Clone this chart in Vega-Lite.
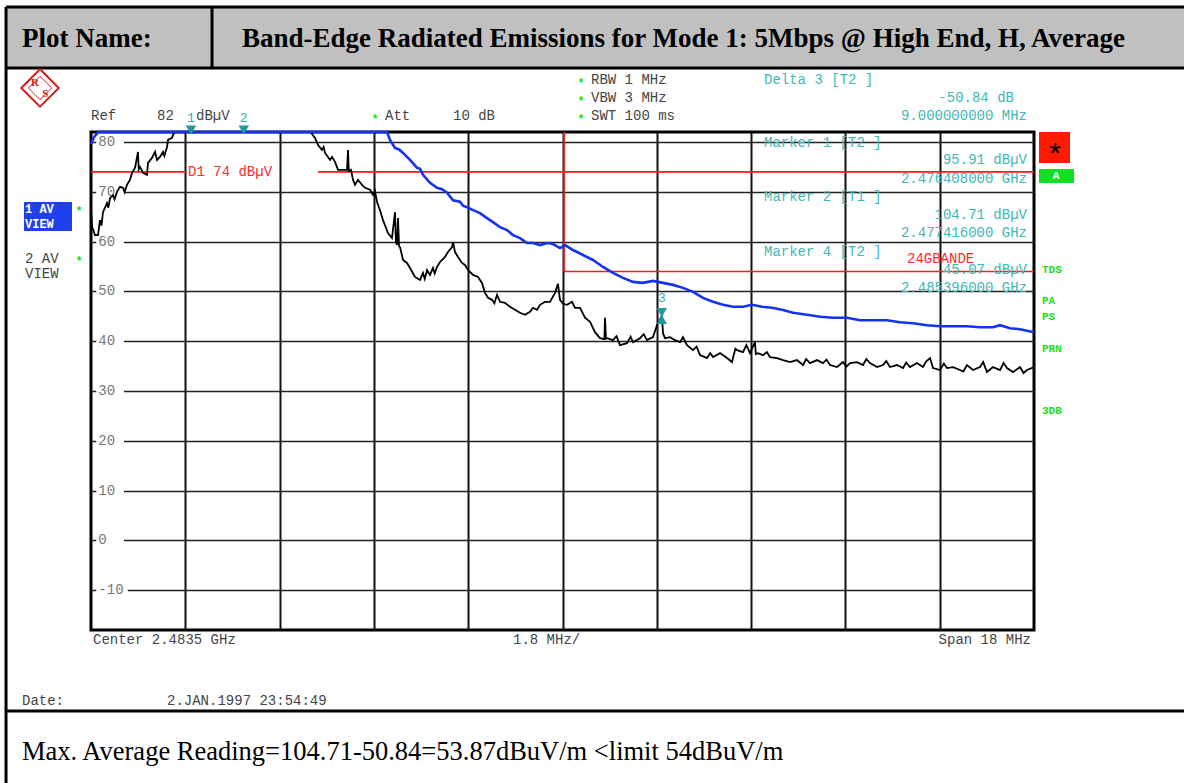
{
  "$schema": "https://vega.github.io/schema/vega-lite/v6.json",
  "width": 943,
  "height": 498,
  "autosize": {"type": "none"},
  "padding": {"left": 91, "top": 132, "right": 150, "bottom": 153},
  "background": "white",
  "config": {"view": {"stroke": "#000", "strokeWidth": 3}},
  "datasets": {
    "trace2": [
      {"f":2474.5,"v":66.3},{"f":2474.52,"v":63.0},{"f":2474.576,"v":61.3},{"f":2474.634,"v":61.3},{"f":2474.672,"v":64.3},{"f":2474.70,"v":63.2},{"f":2474.729,"v":65.9},{"f":2474.805,"v":67.7},{"f":2474.83,"v":66.8},{"f":2474.863,"v":68.7},{"f":2474.920,"v":69.3},{"f":2474.95,"v":68.5},{"f":2474.996,"v":70.0},{"f":2475.053,"v":71.0},{"f":2475.111,"v":70.8},{"f":2475.14,"v":69.9},{"f":2475.187,"v":71.4},{"f":2475.244,"v":72.4},{"f":2475.283,"v":73.8},{"f":2475.340,"v":74.8},{"f":2475.397,"v":78.0},{"f":2475.41,"v":74.5},{"f":2475.435,"v":75.0},{"f":2475.493,"v":73.8},{"f":2475.569,"v":73.4},{"f":2475.588,"v":75.8},{"f":2475.664,"v":76.8},{"f":2475.722,"v":78.0},{"f":2475.760,"v":76.4},{"f":2475.817,"v":77.0},{"f":2475.874,"v":78.0},{"f":2475.90,"v":77.2},{"f":2475.951,"v":79.0},{"f":2475.970,"v":80.4},{"f":2476.046,"v":80.8},{"f":2476.065,"v":81.4},{"f":2476.1,"v":82},{"f":2478.70,"v":82},{"f":2478.718,"v":81.6},{"f":2478.776,"v":80.8},{"f":2478.833,"v":79.4},{"f":2478.909,"v":78.4},{"f":2478.94,"v":79.0},{"f":2478.967,"v":77.8},{"f":2479.062,"v":76.4},{"f":2479.10,"v":77.0},{"f":2479.158,"v":76.0},{"f":2479.215,"v":74.4},{"f":2479.291,"v":74.4},{"f":2479.387,"v":74.4},{"f":2479.406,"v":78.4},{"f":2479.42,"v":74.2},{"f":2479.463,"v":74.4},{"f":2479.501,"v":72.4},{"f":2479.539,"v":71.4},{"f":2479.597,"v":72.4},{"f":2479.673,"v":71.4},{"f":2479.730,"v":70.8},{"f":2479.826,"v":70.4},{"f":2479.883,"v":69.4},{"f":2479.92,"v":70.2},{"f":2479.959,"v":68.0},{"f":2480.016,"v":66.3},{"f":2480.074,"v":64.3},{"f":2480.169,"v":61.7},{"f":2480.245,"v":60.7},{"f":2480.303,"v":65.9},{"f":2480.32,"v":60.0},{"f":2480.341,"v":59.3},{"f":2480.360,"v":64.7},{"f":2480.38,"v":59.0},{"f":2480.398,"v":58.9},{"f":2480.456,"v":56.3},{"f":2480.532,"v":55.7},{"f":2480.589,"v":54.7},{"f":2480.685,"v":52.9},{"f":2480.780,"v":52.3},{"f":2480.837,"v":53.7},{"f":2480.87,"v":52.5},{"f":2480.914,"v":54.3},{"f":2480.971,"v":53.3},{"f":2481.028,"v":54.7},{"f":2481.06,"v":53.6},{"f":2481.104,"v":54.9},{"f":2481.162,"v":55.9},{"f":2481.257,"v":56.9},{"f":2481.314,"v":57.9},{"f":2481.391,"v":58.9},{"f":2481.410,"v":59.9},{"f":2481.448,"v":57.9},{"f":2481.505,"v":56.9},{"f":2481.582,"v":55.7},{"f":2481.639,"v":55.3},{"f":2481.696,"v":54.3},{"f":2481.792,"v":53.3},{"f":2481.887,"v":52.9},{"f":2481.963,"v":51.7},{"f":2482.021,"v":49.7},{"f":2482.078,"v":48.7},{"f":2482.154,"v":48.3},{"f":2482.20,"v":47.6},{"f":2482.250,"v":49.3},{"f":2482.307,"v":47.9},{"f":2482.402,"v":47.7},{"f":2482.498,"v":46.9},{"f":2482.593,"v":46.3},{"f":2482.689,"v":45.7},{"f":2482.784,"v":45.3},{"f":2482.880,"v":45.9},{"f":2482.937,"v":46.7},{"f":2483.013,"v":46.3},{"f":2483.071,"v":47.3},{"f":2483.166,"v":47.9},{"f":2483.261,"v":47.9},{"f":2483.357,"v":49.7},{"f":2483.414,"v":51.5},{"f":2483.452,"v":48.3},{"f":2483.510,"v":47.5},{"f":2483.586,"v":47.3},{"f":2483.681,"v":47.9},{"f":2483.739,"v":46.7},{"f":2483.834,"v":46.7},{"f":2483.930,"v":44.7},{"f":2484.025,"v":43.9},{"f":2484.120,"v":41.8},{"f":2484.216,"v":40.6},{"f":2484.30,"v":40.4},{"f":2484.311,"v":44.7},{"f":2484.33,"v":40.5},{"f":2484.349,"v":40.6},{"f":2484.464,"v":40.2},{"f":2484.53,"v":41.0},{"f":2484.598,"v":39.2},{"f":2484.731,"v":39.6},{"f":2484.80,"v":40.9},{"f":2484.846,"v":39.8},{"f":2484.979,"v":40.6},{"f":2485.05,"v":41.4},{"f":2485.113,"v":40.2},{"f":2485.227,"v":40.8},{"f":2485.304,"v":43.2},{"f":2485.396,"v":45.07},{"f":2485.42,"v":41.5},{"f":2485.457,"v":40.6},{"f":2485.553,"v":40.8},{"f":2485.648,"v":40.2},{"f":2485.743,"v":39.8},{"f":2485.80,"v":40.8},{"f":2485.877,"v":39.2},{"f":2485.991,"v":38.2},{"f":2486.06,"v":38.9},{"f":2486.125,"v":37.2},{"f":2486.258,"v":36.6},{"f":2486.32,"v":37.6},{"f":2486.373,"v":36.8},{"f":2486.506,"v":37.6},{"f":2486.640,"v":36.6},{"f":2486.735,"v":35.8},{"f":2486.80,"v":38.5},{"f":2486.831,"v":38.2},{"f":2486.945,"v":37.8},{"f":2487.01,"v":39.2},{"f":2487.079,"v":37.6},{"f":2487.174,"v":39.8},{"f":2487.19,"v":37.4},{"f":2487.232,"v":37.6},{"f":2487.327,"v":37.2},{"f":2487.40,"v":37.8},{"f":2487.461,"v":36.8},{"f":2487.594,"v":36.6},{"f":2487.709,"v":36.2},{"f":2487.843,"v":35.8},{"f":2487.976,"v":36.2},{"f":2488.091,"v":35.2},{"f":2488.15,"v":36.4},{"f":2488.224,"v":35.6},{"f":2488.358,"v":36.2},{"f":2488.472,"v":35.6},{"f":2488.54,"v":36.3},{"f":2488.606,"v":35.2},{"f":2488.740,"v":34.8},{"f":2488.854,"v":35.8},{"f":2488.92,"v":34.9},{"f":2488.988,"v":35.6},{"f":2489.121,"v":35.8},{"f":2489.236,"v":35.2},{"f":2489.30,"v":36.4},{"f":2489.370,"v":35.6},{"f":2489.503,"v":34.8},{"f":2489.618,"v":35.2},{"f":2489.68,"v":36.0},{"f":2489.751,"v":34.8},{"f":2489.885,"v":35.2},{"f":2490.000,"v":34.6},{"f":2490.06,"v":35.7},{"f":2490.133,"v":34.8},{"f":2490.267,"v":35.6},{"f":2490.381,"v":34.8},{"f":2490.44,"v":35.9},{"f":2490.515,"v":36.6},{"f":2490.572,"v":34.6},{"f":2490.706,"v":34.2},{"f":2490.78,"v":35.5},{"f":2490.839,"v":34.6},{"f":2490.954,"v":34.8},{"f":2491.088,"v":34.2},{"f":2491.15,"v":33.9},{"f":2491.221,"v":35.2},{"f":2491.336,"v":34.2},{"f":2491.469,"v":34.8},{"f":2491.53,"v":35.8},{"f":2491.603,"v":33.8},{"f":2491.717,"v":34.8},{"f":2491.851,"v":34.2},{"f":2491.92,"v":35.6},{"f":2491.985,"v":34.6},{"f":2492.099,"v":33.8},{"f":2492.233,"v":34.8},{"f":2492.30,"v":33.6},{"f":2492.366,"v":34.2},{"f":2492.5,"v":34.8}
    ],
    "trace1": [
      {"f":2474.5,"v":79.6},{"f":2474.56,"v":81.0},{"f":2474.64,"v":82},{"f":2480.15,"v":82},{"f":2480.207,"v":80.4},{"f":2480.303,"v":78.8},{"f":2480.38,"v":78.5},{"f":2480.456,"v":77.8},{"f":2480.589,"v":76.4},{"f":2480.723,"v":74.8},{"f":2480.78,"v":74.6},{"f":2480.837,"v":73.4},{"f":2480.971,"v":71.8},{"f":2481.104,"v":70.8},{"f":2481.20,"v":70.5},{"f":2481.295,"v":69.8},{"f":2481.410,"v":68.3},{"f":2481.543,"v":68.0},{"f":2481.60,"v":67.2},{"f":2481.677,"v":66.9},{"f":2481.792,"v":66.3},{"f":2481.925,"v":65.7},{"f":2482.059,"v":64.7},{"f":2482.173,"v":63.9},{"f":2482.307,"v":62.9},{"f":2482.441,"v":62.3},{"f":2482.555,"v":61.3},{"f":2482.689,"v":60.7},{"f":2482.822,"v":59.7},{"f":2482.937,"v":59.7},{"f":2483.071,"v":59.3},{"f":2483.204,"v":59.7},{"f":2483.319,"v":59.5},{"f":2483.452,"v":58.7},{"f":2483.548,"v":59.3},{"f":2483.700,"v":58.3},{"f":2483.891,"v":57.3},{"f":2484.082,"v":56.3},{"f":2484.273,"v":54.9},{"f":2484.464,"v":53.7},{"f":2484.655,"v":52.7},{"f":2484.846,"v":51.9},{"f":2485.037,"v":51.7},{"f":2485.227,"v":52.1},{"f":2485.418,"v":51.7},{"f":2485.609,"v":51.3},{"f":2485.800,"v":50.7},{"f":2485.991,"v":49.9},{"f":2486.182,"v":48.7},{"f":2486.373,"v":47.9},{"f":2486.564,"v":47.3},{"f":2486.755,"v":46.9},{"f":2486.945,"v":46.9},{"f":2487.117,"v":47.3},{"f":2487.308,"v":46.9},{"f":2487.499,"v":46.7},{"f":2487.690,"v":46.3},{"f":2487.900,"v":45.7},{"f":2488.167,"v":45.3},{"f":2488.415,"v":44.9},{"f":2488.663,"v":44.7},{"f":2488.931,"v":44.7},{"f":2489.179,"v":44.2},{"f":2489.427,"v":44.2},{"f":2489.694,"v":44.2},{"f":2489.942,"v":43.8},{"f":2490.190,"v":43.6},{"f":2490.458,"v":43.2},{"f":2490.706,"v":43.0},{"f":2490.954,"v":43.0},{"f":2491.221,"v":43.0},{"f":2491.469,"v":42.8},{"f":2491.717,"v":42.8},{"f":2491.851,"v":43.2},{"f":2492.042,"v":42.6},{"f":2492.233,"v":42.4},{"f":2492.5,"v":41.8}
    ]
  },
  "encoding": {
    "x": {"field": "f", "type": "quantitative", "scale": {"domain": [2474.5, 2492.5], "nice": false, "zero": false},
      "axis": {"values": [2476.3, 2478.1, 2479.9, 2481.7, 2483.5, 2485.3, 2487.1, 2488.9, 2490.7], "grid": true, "gridColor": "#111", "gridWidth": 2, "labels": false, "ticks": false, "domain": false, "title": null}},
    "y": {"field": "v", "type": "quantitative", "scale": {"domain": [-18, 82], "nice": false, "zero": false},
      "axis": {"values": [-10, 0, 10, 20, 30, 40, 50, 60, 70, 80], "grid": true, "gridColor": "#222", "gridWidth": 1.6, "labels": false, "ticks": false, "domain": false, "title": null}}
  },
  "layer": [
    {"data": {"values": [{"f": 2472.878, "f2": 2495.4, "v": 107.1, "v2": 94.85}]},
     "mark": {"type": "rect", "fill": "#c0c0c0"},
     "encoding": {"x2": {"field": "f2"}, "y2": {"field": "v2"}}},
    {"data": {"values": [{"f": 2473.221, "f2": 2474.137, "v": 67.94, "v2": 62.12}]},
     "mark": {"type": "rect", "fill": "#2040ee"},
     "encoding": {"x2": {"field": "f2"}, "y2": {"field": "v2"}}},
    {"data": {"values": [{"f": 2492.595, "f2": 2493.187, "v": 82, "v2": 75.78}]},
     "mark": {"type": "rect", "fill": "#ff1a00"},
     "encoding": {"x2": {"field": "f2"}, "y2": {"field": "v2"}}},
    {"data": {"values": [{"f": 2492.595, "f2": 2493.264, "v": 74.57, "v2": 71.76}]},
     "mark": {"type": "rect", "fill": "#10e020"},
     "encoding": {"x2": {"field": "f2"}, "y2": {"field": "v2"}}},
    {"data": {"values": [
       {"f": 2472.878, "f2": 2495.4, "v": 107.1, "v2": 107.1},
       {"f": 2472.878, "f2": 2495.4, "v": 94.85, "v2": 94.85},
       {"f": 2472.878, "f2": 2472.878, "v": 107.1, "v2": -48.8},
       {"f": 2476.810, "f2": 2476.810, "v": 107.1, "v2": 94.85},
       {"f": 2472.878, "f2": 2495.4, "v": -34.27, "v2": -34.27}]},
     "mark": {"type": "rule", "stroke": "#000", "strokeWidth": 3},
     "encoding": {"x2": {"field": "f2"}, "y2": {"field": "v2"}}},
    {"data": {"values": [{"f": 2474.6, "f2": 2475.13, "v": 80}, {"f": 2474.6, "f2": 2475.13, "v": 70}, {"f": 2474.6, "f2": 2475.13, "v": 60}, {"f": 2474.6, "f2": 2475.13, "v": 50}, {"f": 2474.6, "f2": 2475.13, "v": 40}, {"f": 2474.6, "f2": 2475.13, "v": 30}, {"f": 2474.6, "f2": 2475.13, "v": 20}, {"f": 2474.6, "f2": 2475.13, "v": 10}, {"f": 2474.6, "f2": 2475.13, "v": 0}, {"f": 2474.6, "f2": 2475.2, "v": -10}]},
     "mark": {"type": "rule", "stroke": "#ffffff", "strokeWidth": 5},
     "encoding": {"x2": {"field": "f2"}}},
    {"data": {"values": [{"f": 2474.64, "v": 80, "t": "80"}, {"f": 2474.64, "v": 70, "t": "70"}, {"f": 2474.64, "v": 60, "t": "60"}, {"f": 2474.64, "v": 50, "t": "50"}, {"f": 2474.64, "v": 40, "t": "40"}, {"f": 2474.64, "v": 30, "t": "30"}, {"f": 2474.64, "v": 20, "t": "20"}, {"f": 2474.64, "v": 10, "t": "10"}, {"f": 2474.64, "v": 0, "t": "0"}, {"f": 2474.64, "v": -10, "t": "-10"}]},
     "mark": {"type": "text", "align": "left", "baseline": "middle", "font": "Liberation Mono", "fontSize": 14, "fill": "#777"},
     "encoding": {"text": {"field": "t"}}},
    {"data": {"values": [
       {"f": 2474.5, "f2": 2476.33, "v": 74, "v2": 74},
       {"f": 2478.833, "f2": 2492.5, "v": 74, "v2": 74},
       {"f": 2483.53, "f2": 2483.53, "v": 82, "v2": 54},
       {"f": 2483.53, "f2": 2492.5, "v": 54, "v2": 54}]},
     "mark": {"type": "rule", "stroke": "#ff1a1a", "strokeWidth": 1.6},
     "encoding": {"x2": {"field": "f2"}, "y2": {"field": "v2"}}},
    {"data": {"name": "trace2"},
     "mark": {"type": "line", "stroke": "#000", "strokeWidth": 1.8}},
    {"data": {"name": "trace1"},
     "mark": {"type": "line", "stroke": "#1433f0", "strokeWidth": 2.6}},
    {"data": {"values": [{"f": 2476.408, "v": 82.4}, {"f": 2477.416, "v": 82.4}, {"f": 2485.396, "v": 45.75}]},
     "mark": {"type": "point", "shape": "triangle-down", "size": 110, "filled": true, "fill": "#1e9a9a", "strokeWidth": 0, "opacity": 1}},
    {"data": {"values": [{"f": 2485.396, "v": 44.35}]},
     "mark": {"type": "point", "shape": "triangle-up", "size": 110, "filled": true, "fill": "#1e9a9a", "strokeWidth": 0, "opacity": 1}},
    {"data": {"values": [{"f": 2473.527, "v": 90.84}]},
     "mark": {"type": "point", "shape": "diamond", "size": 1400, "filled": false, "stroke": "#d42020", "strokeWidth": 2, "opacity": 1}},
    {"data": {"values": [{"f": 2473.527, "v": 90.84}]},
     "mark": {"type": "point", "shape": "diamond", "size": 550, "filled": false, "stroke": "#d42020", "strokeWidth": 1, "opacity": 1}},
    {"data": {"values": [{"f": 2473.43, "v": 91.9, "t": "R"}, {"f": 2473.63, "v": 89.6, "t": "S"}]},
     "mark": {"type": "text", "align": "center", "baseline": "middle", "font": "Liberation Serif", "fontWeight": "bold", "fontSize": 11, "fill": "#d42020"},
     "encoding": {"text": {"field": "t"}}},
    {"data": {"values": [
       {"f": 2473.183, "v": 99.07, "t": "Plot Name:"},
       {"f": 2477.382, "v": 99.07, "t": "Band-Edge Radiated Emissions  for Mode 1: 5Mbps @ High End, H, Average"}]},
     "mark": {"type": "text", "align": "left", "baseline": "alphabetic", "font": "Liberation Serif", "fontWeight": "bold", "fontSize": 27, "fill": "#000"},
     "encoding": {"text": {"field": "t"}}},
    {"data": {"values": [{"f": 2473.183, "v": -44.1, "t": "Max. Average Reading=104.71-50.84=53.87dBuV/m <limit 54dBuV/m"}]},
     "mark": {"type": "text", "align": "left", "baseline": "alphabetic", "font": "Liberation Serif", "fontSize": 26.5, "fill": "#000"},
     "encoding": {"text": {"field": "t"}}},
    {"data": {"values": [
       {"f": 2474.5, "v": 85.21, "t": "Ref"},
       {"f": 2475.76, "v": 85.21, "t": "82"},
       {"f": 2476.504, "v": 85.21, "t": "dBµV"},
       {"f": 2480.112, "v": 85.21, "t": "Att"},
       {"f": 2481.41, "v": 85.21, "t": "10 dB"},
       {"f": 2484.044, "v": 92.44, "t": "RBW 1 MHz"},
       {"f": 2484.044, "v": 88.83, "t": "VBW 3 MHz"},
       {"f": 2484.044, "v": 85.21, "t": "SWT 100 ms"},
       {"f": 2474.538, "v": -20.01, "t": "Center 2.4835 GHz"},
       {"f": 2482.555, "v": -20.01, "t": "1.8 MHz/"},
       {"f": 2473.183, "v": -32.26, "t": "Date:"},
       {"f": 2475.951, "v": -32.26, "t": "2.JAN.1997  23:54:49"},
       {"f": 2473.24, "v": 56.5, "t": "2 AV"},
       {"f": 2473.24, "v": 53.49, "t": "VIEW"}]},
     "mark": {"type": "text", "align": "left", "baseline": "middle", "font": "Liberation Mono", "fontSize": 14, "fill": "#444"},
     "encoding": {"text": {"field": "t"}}},
    {"data": {"values": [{"f": 2492.443, "v": -20.01, "t": "Span 18 MHz"}]},
     "mark": {"type": "text", "align": "right", "baseline": "middle", "font": "Liberation Mono", "fontSize": 14, "fill": "#444"},
     "encoding": {"text": {"field": "t"}}},
    {"data": {"values": [
       {"f": 2479.921, "v": 85.21, "t": "*"},
       {"f": 2483.853, "v": 92.44, "t": "*"},
       {"f": 2483.853, "v": 88.83, "t": "*"},
       {"f": 2483.853, "v": 85.21, "t": "*"},
       {"f": 2474.271, "v": 66.74, "t": "*"},
       {"f": 2474.271, "v": 56.6, "t": "*"}]},
     "mark": {"type": "text", "align": "center", "baseline": "middle", "dy": 3, "font": "Liberation Mono", "fontWeight": "bold", "fontSize": 12, "fill": "#22dd22"},
     "encoding": {"text": {"field": "t"}}},
    {"data": {"values": [
       {"f": 2487.346, "v": 92.44, "t": "Delta 3 [T2 ]"},
       {"f": 2487.346, "v": 79.79, "t": "Marker 1 [T2 ]"},
       {"f": 2487.346, "v": 68.95, "t": "Marker 2 [T1 ]"},
       {"f": 2487.346, "v": 57.9, "t": "Marker 4 [T2 ]"}]},
     "mark": {"type": "text", "align": "left", "baseline": "middle", "font": "Liberation Mono", "fontSize": 14, "fill": "#40b8b8"},
     "encoding": {"text": {"field": "t"}}},
    {"data": {"values": [
       {"f": 2492.118, "v": 88.83, "t": "-50.84 dB"},
       {"f": 2492.366, "v": 85.21, "t": "9.000000000 MHz"},
       {"f": 2492.366, "v": 76.38, "t": "95.91 dBµV"},
       {"f": 2492.366, "v": 72.56, "t": "2.476408000 GHz"},
       {"f": 2492.366, "v": 65.33, "t": "104.71 dBµV"},
       {"f": 2492.366, "v": 61.72, "t": "2.477416000 GHz"},
       {"f": 2492.366, "v": 54.2, "t": "45.07 dBµV"},
       {"f": 2492.366, "v": 50.67, "t": "2.485396000 GHz"}]},
     "mark": {"type": "text", "align": "right", "baseline": "middle", "font": "Liberation Mono", "fontSize": 14, "fill": "#40b8b8"},
     "encoding": {"text": {"field": "t"}}},
    {"data": {"values": [
       {"f": 2476.408, "v": 84.81, "t": "1"},
       {"f": 2477.416, "v": 84.81, "t": "2"},
       {"f": 2485.396, "v": 48.67, "t": "3"}]},
     "mark": {"type": "text", "align": "center", "baseline": "middle", "font": "Liberation Mono", "fontSize": 13, "fill": "#30b0b0"},
     "encoding": {"text": {"field": "t"}}},
    {"data": {"values": [
       {"f": 2476.352, "v": 74, "t": "D1  74  dBµV"},
       {"f": 2490.076, "v": 56.5, "t": "24GBANDE"}]},
     "mark": {"type": "text", "align": "left", "baseline": "middle", "font": "Liberation Mono", "fontSize": 14, "fill": "#ff2a2a"},
     "encoding": {"text": {"field": "t"}}},
    {"data": {"values": [
       {"f": 2492.653, "v": 54.29, "t": "TDS"},
       {"f": 2492.653, "v": 48.06, "t": "PA"},
       {"f": 2492.653, "v": 44.85, "t": "PS"},
       {"f": 2492.653, "v": 38.43, "t": "PRN"},
       {"f": 2492.653, "v": 25.98, "t": "3DB"}]},
     "mark": {"type": "text", "align": "left", "baseline": "middle", "font": "Liberation Mono", "fontWeight": "bold", "fontSize": 11, "fill": "#22dd22"},
     "encoding": {"text": {"field": "t"}}},
    {"data": {"values": [
       {"f": 2473.24, "v": 66.54, "t": "1 AV"},
       {"f": 2473.24, "v": 63.53, "t": "VIEW"}]},
     "mark": {"type": "text", "align": "left", "baseline": "middle", "font": "Liberation Mono", "fontWeight": "bold", "fontSize": 12, "fill": "#ffffff"},
     "encoding": {"text": {"field": "t"}}},
    {"data": {"values": [{"f": 2492.92, "v": 73.16, "t": "A"}]},
     "mark": {"type": "text", "align": "center", "baseline": "middle", "font": "Liberation Mono", "fontWeight": "bold", "fontSize": 11, "fill": "#ffffff"},
     "encoding": {"text": {"field": "t"}}},
    {"data": {"values": [{"f": 2492.901, "v": 78.79, "t": "*"}]},
     "mark": {"type": "text", "align": "center", "baseline": "middle", "dy": 6, "font": "Liberation Sans", "fontSize": 30, "fill": "#000"},
     "encoding": {"text": {"field": "t"}}}
  ]
}
